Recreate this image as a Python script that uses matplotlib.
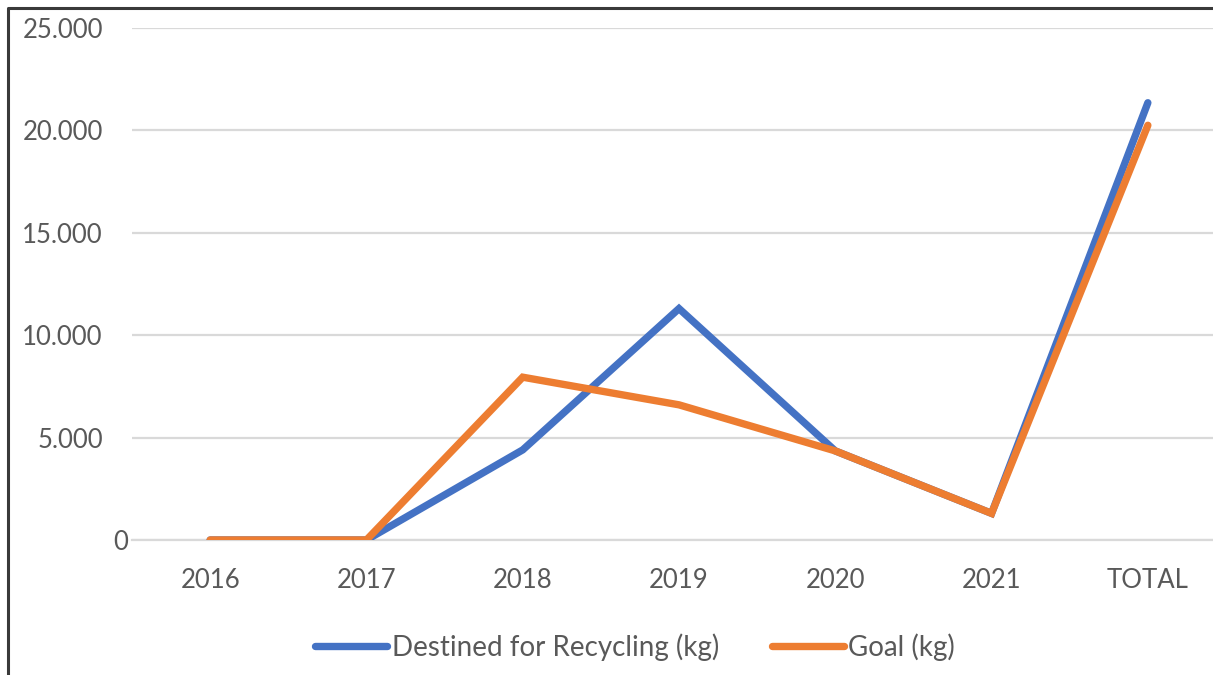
import matplotlib
matplotlib.use('Agg')
from matplotlib import pyplot as plt
from matplotlib.lines import Line2D
from matplotlib.transforms import ScaledTranslation

plt.rcParams['font.family'] = ['Lato', 'DejaVu Sans']

categories = ['2016', '2017', '2018', '2019', '2020', '2021', 'TOTAL']
recycling_kg = [0, 0, 4400, 11300, 4350, 1300, 21350]
goal_kg = [0, 0, 7950, 6600, 4350, 1300, 20250]
y_ticks = [0, 5000, 10000, 15000, 20000, 25000]
y_labels = ['0', '5.000', '10.000', '15.000', '20.000', '25.000']

W, H = 1213, 675
fig = plt.figure(figsize=(W / 100, H / 100), dpi=100)
fig.set_facecolor('white')

# zone de tracé en pixels : gauche 132, droite 1226 (coupée), y=0 à 540, 25000 à 28
ax = fig.add_axes([132 / W, (H - 540) / H, (1226 - 132) / W, (540 - 28) / H])

x = list(range(len(categories)))
ax.plot(x, recycling_kg, color='#4472C4', lw=5.3, solid_capstyle='round',
        solid_joinstyle='miter', label='Destined for Recycling (kg)', zorder=3)
ax.plot(x, goal_kg, color='#ED7D31', lw=5.3, solid_capstyle='round',
        solid_joinstyle='miter', label='Goal (kg)', zorder=4)

ax.set_xlim(-0.5, len(categories) - 0.5)
ax.set_ylim(0, 25000)
ax.set_xticks(x)
ax.set_xticklabels(categories)
ax.set_yticks(y_ticks)
ax.set_yticklabels(y_labels)

ax.grid(axis='y', color='#D9D9D9', lw=1.6)
ax.set_axisbelow(True)
for side in ['top', 'right', 'left']:
    ax.spines[side].set_visible(False)
ax.spines['bottom'].set_color('#D9D9D9')
ax.spines['bottom'].set_linewidth(1.6)

ax.tick_params(axis='both', length=0, labelsize=18.5, labelcolor='#595959')
ax.tick_params(axis='x', pad=20)
ax.tick_params(axis='y', pad=21)

# le « 0 » est décalé vers la droite
zero = ax.get_yticklabels()[0]
zero.set_transform(zero.get_transform() + ScaledTranslation(25 / 100, 0, fig.dpi_scale_trans))

ax.legend(loc='center', bbox_to_anchor=(635 / W, 1 - 647 / H), bbox_transform=fig.transFigure,
          ncol=2, frameon=False, fontsize=20, labelcolor='#595959',
          handlelength=2.6, handletextpad=0.15, columnspacing=1.9)

# cadre gauche et haut
fig.add_artist(Line2D([8 / W, 8 / W, 1], [0, 1 - 8 / H, 1 - 8 / H],
                      transform=fig.transFigure, color='#3A3A3A', lw=2.2))

fig.savefig('out.png', dpi=100)
